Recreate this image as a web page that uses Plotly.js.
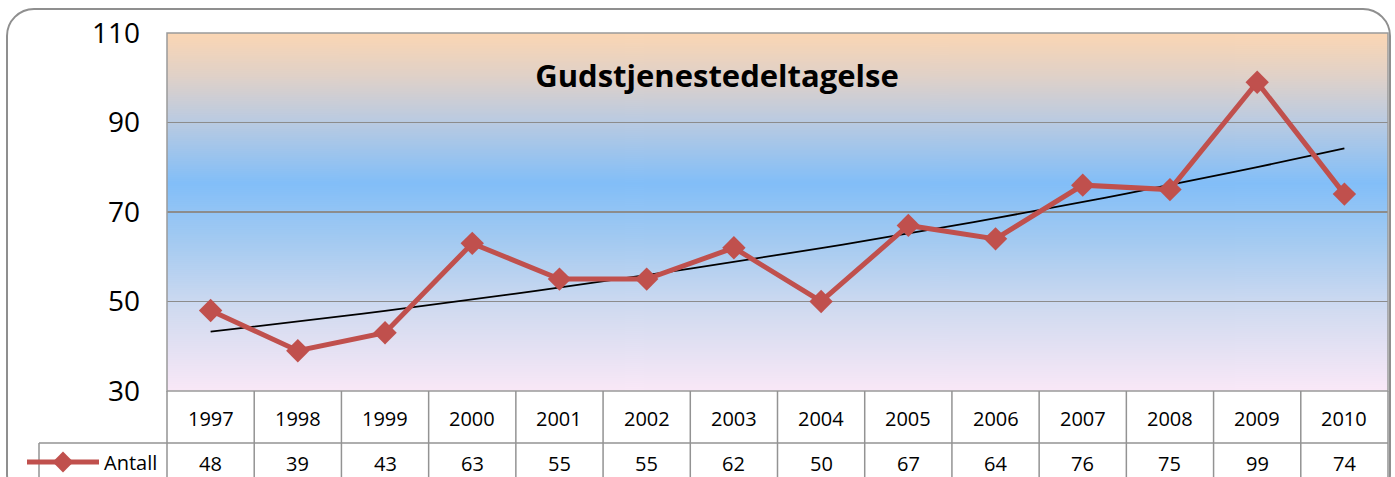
<!DOCTYPE html>
<html>
<head>
<meta charset="utf-8">
<script src="https://cdn.plot.ly/plotly-3.0.1.min.js"></script>
<style>
  html, body { margin: 0; padding: 0; background: #ffffff; }
  #wrap { position: relative; width: 1395px; height: 477px; overflow: hidden; }
  #frame { position: absolute; left: 6px; top: 8px; width: 1381px; height: 490px;
           border: 2px solid #8f8f8f; border-radius: 28px; box-sizing: content-box; }
  #chart { position: absolute; left: 0; top: 0; width: 1395px; height: 477px; }
</style>
</head>
<body>
<div id="wrap">
  <div id="frame"></div>
  <div id="chart"></div>
</div>
<script>
// ---- data ----
const years = ["1997","1998","1999","2000","2001","2002","2003","2004","2005","2006","2007","2008","2009","2010"];
const antall = [48, 39, 43, 63, 55, 55, 62, 50, 67, 64, 76, 75, 99, 74];
const seriesName = "Antall";
const chartTitle = "Gudstjenestedeltagelse";
const yTicks = [30, 50, 70, 90, 110];

// ---- exponential trendline (least squares on ln y), as in the spreadsheet ----
const idx = years.map((_, i) => i);
const n = antall.length;
const lnY = antall.map(v => Math.log(v));
const mx = idx.reduce((a, b) => a + b, 0) / n;
const my = lnY.reduce((a, b) => a + b, 0) / n;
let sxy = 0, sxx = 0;
for (let i = 0; i < n; i++) { sxy += (idx[i] - mx) * (lnY[i] - my); sxx += (idx[i] - mx) ** 2; }
const bExp = sxy / sxx, aExp = Math.exp(my - bExp * mx);
const trendX = [], trendY = [];
for (let t = 0; t <= n - 1 + 1e-9; t += 0.25) { trendX.push(t); trendY.push(aExp * Math.exp(bExp * t)); }

// ---- gradient background for the plot area ----
function gradientURL() {
  const c = document.createElement('canvas');
  c.width = 4; c.height = 358;
  const g = c.getContext('2d');
  const gr = g.createLinearGradient(0, 0, 0, c.height);
  gr.addColorStop(0.00, '#fbd6b3');
  gr.addColorStop(0.12, '#e0d1c8');
  gr.addColorStop(0.24, '#bccbe0');
  gr.addColorStop(0.42, '#82bef8');
  gr.addColorStop(0.58, '#a3caf1');
  gr.addColorStop(0.78, '#d2dbf0');
  gr.addColorStop(1.00, '#f9e8f7');
  g.fillStyle = gr;
  g.fillRect(0, 0, c.width, c.height);
  return c.toDataURL('image/png');
}

const W = 1395, H = 477;
const M = { l: 167, r: 7, t: 33, b: 86, autoexpand: false };
const pw = W - M.l - M.r, ph = H - M.t - M.b;
const px2x = p => (p - M.l) / pw;      // pixel -> paper x
const py2y = p => (H - M.b - p) / ph;  // pixel -> paper y

const gridCol = '#8c8c8c';
const tableCol = '#939393';
const font = '"Open Sans", "Noto Sans", sans-serif';

const shapes = [];
// plot area border
shapes.push({ type: 'rect', xref: 'paper', yref: 'paper', x0: 0, x1: 1, y0: 0, y1: 1,
  line: { color: '#9a9a9a', width: 1.5 }, fillcolor: 'rgba(0,0,0,0)', layer: 'above' });
// table: vertical lines at category boundaries
for (let i = 0; i <= years.length; i++) {
  shapes.push({ type: 'line', xref: 'paper', yref: 'paper', x0: i / years.length, x1: i / years.length,
    y0: 0, y1: py2y(H + 5), line: { color: tableCol, width: 1.5 } });
}
// horizontal line between the year row and the value row
shapes.push({ type: 'line', xref: 'paper', yref: 'paper', x0: px2x(39), x1: 1,
  y0: py2y(443), y1: py2y(443), line: { color: tableCol, width: 1.5 } });
// left border of the legend cell
shapes.push({ type: 'line', xref: 'paper', yref: 'paper', x0: px2x(39), x1: px2x(39),
  y0: py2y(443), y1: py2y(H + 5), line: { color: tableCol, width: 1.5 } });

const annotations = [];
years.forEach((yr, i) => {
  annotations.push({ x: i, xref: 'x', y: py2y(418), yref: 'paper', text: yr, showarrow: false,
    xanchor: 'center', yanchor: 'middle', font: { family: font, size: 20, color: '#000' } });
  annotations.push({ x: i, xref: 'x', y: py2y(463), yref: 'paper', text: String(antall[i]), showarrow: false,
    xanchor: 'center', yanchor: 'middle', font: { family: font, size: 20, color: '#000' } });
});

const traces = [
  { x: trendX, y: trendY, name: 'Trend', type: 'scatter', mode: 'lines',
    line: { color: '#000000', width: 1.8 }, showlegend: false, hoverinfo: 'skip' },
  { x: idx, y: antall, name: seriesName, type: 'scatter', mode: 'lines+markers',
    line: { color: '#c0504d', width: 5 },
    marker: { symbol: 'diamond', size: 18, color: '#c0504d' },
    cliponaxis: false, hoverinfo: 'x+y' }
];

const layout = {
  width: W, height: H,
  margin: M,
  paper_bgcolor: 'rgba(0,0,0,0)',
  plot_bgcolor: 'rgba(0,0,0,0)',
  title: { text: '<b>' + chartTitle + '</b>', x: (717) / W, xanchor: 'center',
           y: 1 - 76 / H, yanchor: 'middle', font: { family: font, size: 31, color: '#000' } },
  xaxis: { range: [-0.5, years.length - 0.5], showgrid: false, zeroline: false, showticklabels: false,
           showline: false, ticks: '', fixedrange: true },
  yaxis: { range: [30, 110], tickvals: yTicks, ticktext: yTicks.map(String), showgrid: true,
           gridcolor: gridCol, gridwidth: 1.5, zeroline: false, showline: false, ticks: '',
           ticklabelstandoff: 26,
           tickfont: { family: font, size: 28, color: '#000' }, fixedrange: true },
  showlegend: true,
  legend: { x: px2x(22), xanchor: 'left', y: py2y(462), yanchor: 'middle', bgcolor: 'rgba(0,0,0,0)',
            itemwidth: 72, font: { family: font, size: 20, color: '#000' }, borderwidth: 0,
            tracegroupgap: 0, traceorder: 'normal' },
  images: [{ source: gradientURL(), xref: 'paper', yref: 'paper', x: 0, y: 1, sizex: 1, sizey: 1,
             sizing: 'stretch', xanchor: 'left', yanchor: 'top', layer: 'below' }],
  shapes: shapes,
  annotations: annotations
};

Plotly.newPlot('chart', traces, layout, { displayModeBar: false, staticPlot: true });
</script>
</body>
</html>
